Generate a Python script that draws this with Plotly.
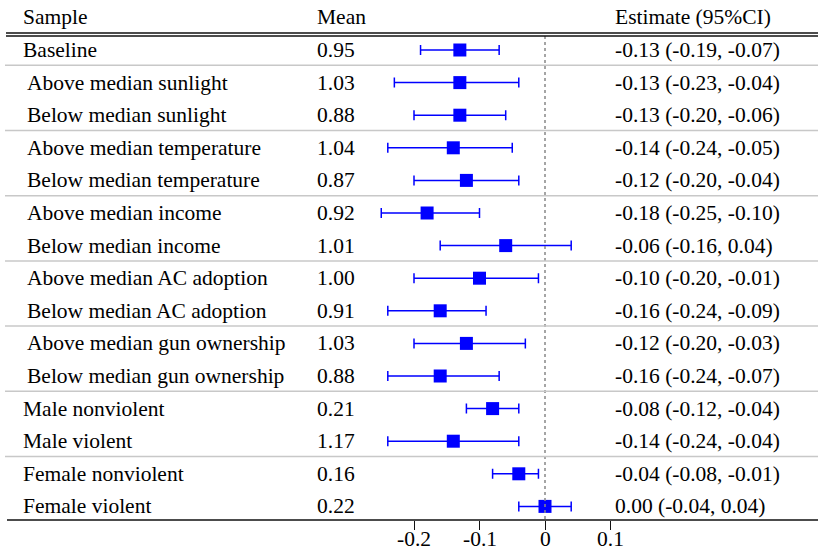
import plotly.graph_objects as go

labels = ["Baseline",
          "Above median sunlight", "Below median sunlight",
          "Above median temperature", "Below median temperature",
          "Above median income", "Below median income",
          "Above median AC adoption", "Below median AC adoption",
          "Above median gun ownership", "Below median gun ownership",
          "Male nonviolent", "Male violent",
          "Female nonviolent", "Female violent"]
means = ["0.95", "1.03", "0.88", "1.04", "0.87", "0.92", "1.01", "1.00",
         "0.91", "1.03", "0.88", "0.21", "1.17", "0.16", "0.22"]
est = [-0.13, -0.13, -0.13, -0.14, -0.12, -0.18, -0.06, -0.10, -0.16,
       -0.12, -0.16, -0.08, -0.14, -0.04, 0.00]
lo = [-0.19, -0.23, -0.20, -0.24, -0.20, -0.25, -0.16, -0.20, -0.24,
      -0.20, -0.24, -0.12, -0.24, -0.08, -0.04]
hi = [-0.07, -0.04, -0.06, -0.05, -0.04, -0.10, 0.04, -0.01, -0.09,
      -0.03, -0.07, -0.04, -0.04, -0.01, 0.04]
group_ends = [0, 2, 4, 6, 8, 10, 12]   # rows after which a separator is drawn
headers = ["Sample", "Mean", "Estimate (95%CI)"]
tickvals = [-0.2, -0.1, 0, 0.1]
ticktext = ["-0.2", "-0.1", "0", "0.1"]

W, H = 818, 552
FONT = "Liberation Serif, Times New Roman, Times, DejaVu Serif, serif"
FS = 21.5
n = len(labels)
rows = list(range(n))
PLOT_H = 520

def fmt(v):
    s = f"{v:.2f}"
    return "0.00" if s == "-0.00" else s

est_text = [f"{fmt(e)} ({fmt(l)}, {fmt(h)})" for e, l, h in zip(est, lo, hi)]

fig = go.Figure()
fig.add_trace(go.Scatter(
    x=est, y=rows, mode="markers",
    marker=dict(symbol="square", size=13, color="#0000ff"),
    error_x=dict(type="data", symmetric=False,
                 array=[h - e for h, e in zip(hi, est)],
                 arrayminus=[e - l for e, l in zip(est, lo)],
                 color="#0000ff", thickness=1.5, width=5),
    showlegend=False, hoverinfo="skip"))

txtfont = dict(family=FONT, size=FS, color="black")
annotations = []
col_px = [21, 315, 613]
for cx, htxt in zip(col_px, headers):
    annotations.append(dict(x=cx / W, y=-1, xref="paper", yref="y", text=htxt,
                            showarrow=False, xanchor="left", yanchor="middle",
                            font=txtfont))
for i in rows:
    indent = 4 if labels[i].startswith(("Above", "Below")) else 0
    for cx, txt in zip([col_px[0] + indent, col_px[1], col_px[2]],
                       [labels[i], means[i], est_text[i]]):
        annotations.append(dict(x=cx / W, y=i, xref="paper", yref="y", text=txt,
                                showarrow=False, xanchor="left", yanchor="middle",
                                font=txtfont))
# x tick labels (drawn as annotations so they sit close to the ticks)
for tv, tt in zip(tickvals, ticktext):
    annotations.append(dict(x=tv, y=-(H - PLOT_H) / PLOT_H, xref="x", yref="paper",
                            text=tt, showarrow=False, xanchor="center",
                            yanchor="bottom", borderpad=0, font=txtfont))

shapes = []
# dotted zero line
shapes.append(dict(type="line", xref="x", yref="y", x0=0, x1=0, y0=-0.43, y1=n - 0.58,
                   line=dict(color="#888888", width=1.5, dash="dot")))
# header double line
for yy in (-0.52, -0.43):
    shapes.append(dict(type="line", xref="paper", yref="y", x0=6 / W, x1=1,
                       y0=yy, y1=yy, line=dict(color="#111111", width=1.4)))
# group separators
for g in group_ends:
    shapes.append(dict(type="line", xref="paper", yref="y", x0=5 / W, x1=1,
                       y0=g + 0.47, y1=g + 0.47, line=dict(color="#c8c8c8", width=1.5)))
# bottom axis line
shapes.append(dict(type="line", xref="paper", yref="paper", x0=7 / W, x1=1,
                   y0=0, y1=0, line=dict(color="#111111", width=1.3)))

zero_px = 545
px_per_unit = 655
fig.update_layout(
    width=W, height=H,
    margin=dict(l=0, r=0, t=0, b=H - PLOT_H, autoexpand=False),
    plot_bgcolor="white", paper_bgcolor="white",
    font=txtfont,
    xaxis=dict(range=[-zero_px / px_per_unit, (W - zero_px) / px_per_unit],
               tickvals=tickvals, ticks="outside", showticklabels=False,
               ticklen=9, tickwidth=1.3, tickcolor="#111111",
               showgrid=False, zeroline=False, showline=False, automargin=False,
               fixedrange=True),
    yaxis=dict(range=[(PLOT_H - 50) / 32.6, -50 / 32.6], visible=False,
               showgrid=False, zeroline=False, fixedrange=True, automargin=False),
    annotations=annotations, shapes=shapes,
)
fig.write_html("out.html")
